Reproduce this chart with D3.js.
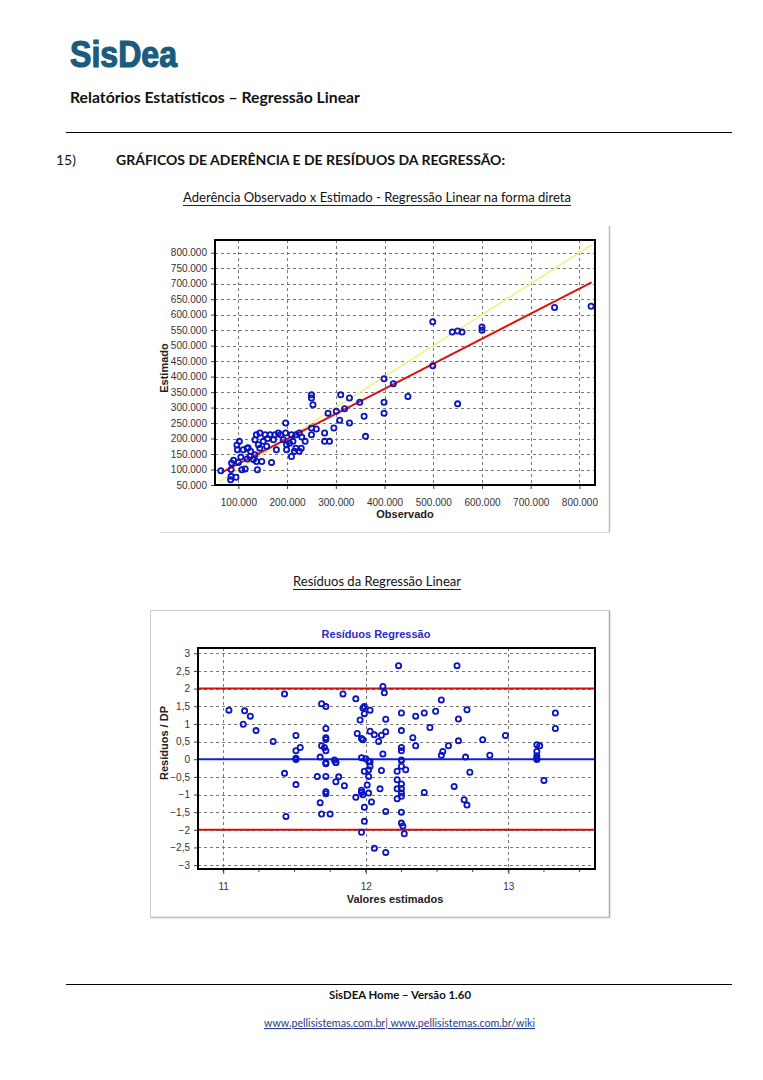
<!DOCTYPE html>
<html><head><meta charset="utf-8">
<script src="https://cdn.jsdelivr.net/npm/d3@7"></script>
<style>
body{margin:0;background:#fff;}
svg{display:block;}
</style></head>
<body>
<svg id="page" width="763" height="1080"></svg>
<script>
// ---------- Chart 1 data: Observado vs Estimado ----------
const observado = [64000,84000,85000,95000,85000,86000,90000,100000,107000,114000,97000,102000,98000,110000,118000,125000,124000,118000,131000,134000,137000,139000,148000,134000,137000,144000,141000,144000,151000,155000,158000,165000,168000,172000,175000,178000,182000,187000,192000,197000,197000,199000,199000,209000,209000,212000,215000,218000,218000,225000,225000,229000,237000,250000,250000,253000,250000,250000,260000,277000,277000,287000,284000,296000,301000,308000,310000,318000,328000,328000,349000,358000,361000,399000,399000,399000,418000,448000,499000,499000,539000,550000,559000,600000,600000,749000,824000,550000,105000,120000,160000,205000,230000];
const estimado  = [96000,67000,78000,75000,100000,121000,130000,123000,99000,102000,179000,191000,164000,164000,169000,159000,142000,134000,132000,148000,126000,99000,126000,196000,212000,218000,180000,169000,191000,212000,175000,212000,123000,196000,212000,164000,218000,212000,196000,250000,218000,180000,164000,212000,142000,191000,159000,212000,169000,159000,218000,169000,191000,341000,331000,309000,234000,212000,231000,218000,191000,191000,282000,234000,288000,259000,341000,296000,250000,331000,317000,272000,207000,317000,282000,393000,377000,336000,577000,435000,544000,547000,544000,560000,550000,623000,627000,312000,140000,170000,200000,185000,205000];
const obsTicks = [100000,200000,300000,400000,500000,600000,700000,800000];
const estTicks = [50000,100000,150000,200000,250000,300000,350000,400000,450000,500000,550000,600000,650000,700000,750000,800000];
const identityLine = [60000, 825000];            // y = x (yellow)
const regObs = [66000, 825000];                  // regression line (red)
const regEst = [91000, 704000];

// ---------- Chart 2 data: Resíduos ----------
const resX = [11.04,11.14,11.15,11.19,11.23,11.35,11.43,11.51,11.51,11.54,11.51,11.69,11.72,11.72,11.72,11.72,11.69,11.71,11.72,11.68,11.84,11.93,11.96,11.94,11.97,11.98,11.98,11.99,11.99,12.03,12.03,12.06,12.09,12.11,12.14,12.14,12.12,12.13,12.12,11.97,12.00,12.03,11.78,11.79,11.72,
  11.43,11.51,11.44,11.51,11.66,11.72,11.72,11.79,11.81,11.79,11.85,11.72,11.72,11.68,11.69,11.75,11.93,11.97,11.97,11.98,11.99,12.02,12.03,12.02,12.02,12.01,12.02,12.04,11.99,11.99,11.97,12.06,12.11,12.10,12.14,12.14,
  12.23,12.64,12.53,12.25,12.35,12.41,12.49,12.71,12.65,12.45,12.25,12.33,12.35,12.25,12.25,12.65,12.82,12.98,12.58,12.54,12.53,12.70,12.87,12.25,13.20,13.22,13.20,13.20,13.20,13.33,13.33,
  12.22,12.25,12.25,12.28,12.22,12.25,12.22,12.25,12.25,12.22,12.25,12.25,12.25,12.26,12.27,12.41,12.62,12.73,12.69,12.71,13.20,13.25];
const resY = [1.39,0.99,1.37,1.22,0.81,0.50,1.85,0.67,0.24,0.33,0.03,1.57,1.49,0.87,0.61,0.56,0.38,0.33,0.24,0.06,1.85,1.71,1.11,0.73,0.59,0.55,1.45,1.49,1.29,1.39,0.79,0.69,0.50,0.68,0.78,1.13,2.06,1.88,0.15,0.04,0.01,-0.07,-0.02,-0.09,-0.10,
  -0.40,-0.72,-1.62,-0.01,-0.49,-0.49,-0.13,-0.09,-0.50,-0.64,-0.75,-0.92,-0.98,-1.23,-1.55,-1.55,-1.08,-0.88,-0.94,-1.01,-0.34,-0.30,-0.20,-0.06,-0.49,-0.73,-0.96,-1.21,-1.36,-1.76,-2.07,-2.52,-0.32,-0.84,-1.48,-2.64,
  2.65,2.65,1.68,1.31,1.22,1.31,1.36,1.40,1.14,0.90,0.81,0.61,0.38,0.33,0.24,0.52,0.55,0.67,0.38,0.22,0.11,0.06,0.11,-0.02,0.41,0.38,0.22,0.10,0.03,1.31,0.87,
  -0.34,-0.20,-0.04,-0.30,-0.58,-0.70,-0.84,-0.84,-0.96,-1.12,-1.05,-1.50,-1.81,-1.89,-2.11,-0.94,-0.77,-0.37,-1.15,-1.30,-0.01,-0.60];
const resYTicks = [-3,-2.5,-2,-1.5,-1,-0.5,0,0.5,1,1.5,2,2.5,3];
const resXTicks = [11,12,13];
const resXMinor = [11,11.25,11.5,11.75,12,12.25,12.5,12.75,13,13.25,13.5];
const limitLines = [2,-2];
const zeroLine = [0];

// ---------- page ----------
const svg = d3.select("#page");
const ptBR = d3.formatLocale({decimal:",", thousands:".", grouping:[3], currency:["R$",""]});
const fmtBig = v => ptBR.format(",.0f")(v);
const fmtRes = v => ptBR.format("~g")(v);

const doc = "Lato, 'Open Sans', sans-serif";
const chartFont = "'Liberation Sans', Arial, sans-serif";
const tickSize = 10;

// Logo
svg.append("text").attr("x",70).attr("y",67).attr("font-family","'Liberation Sans', Arial, sans-serif")
  .attr("font-weight","bold").attr("font-size",36).attr("fill","#1b5b7e").attr("stroke","#1b5b7e").attr("stroke-width",1.2)
  .attr("textLength",107).attr("lengthAdjust","spacingAndGlyphs").text("SisDea");

svg.append("text").attr("x",70).attr("y",103).attr("font-family",doc).attr("font-weight","bold")
  .attr("font-size",15).attr("fill","#111").attr("textLength",290).attr("lengthAdjust","spacingAndGlyphs")
  .text("Relatórios Estatísticos – Regressão Linear");

svg.append("line").attr("x1",66).attr("x2",732).attr("y1",132.5).attr("y2",132.5).attr("stroke","#000").attr("stroke-width",1.2);

svg.append("text").attr("x",56).attr("y",165).attr("font-family",doc).attr("font-size",14).attr("fill","#111").text("15)");
svg.append("text").attr("x",116).attr("y",165).attr("font-family",doc).attr("font-weight","bold")
  .attr("font-size",14).attr("fill","#111").attr("textLength",389).attr("lengthAdjust","spacingAndGlyphs")
  .text("GRÁFICOS DE ADERÊNCIA E DE RESÍDUOS DA REGRESSÃO:");

function underlinedTitle(x1, x2, y, txt){
  svg.append("text").attr("x",x1).attr("y",y).attr("font-family",doc).attr("font-size",13)
    .attr("fill","#111").attr("textLength",x2-x1).attr("lengthAdjust","spacingAndGlyphs").text(txt);
  svg.append("line").attr("x1",x1).attr("x2",x2).attr("y1",y+3.5).attr("y2",y+3.5).attr("stroke","#222").attr("stroke-width",1);
}
underlinedTitle(183, 571, 202, "Aderência Observado x Estimado - Regressão Linear na forma direta");
underlinedTitle(293, 461, 586, "Resíduos da Regressão Linear");

// ---------- Chart 1 ----------
const c1 = svg.append("g");
c1.append("line").attr("x1",609.5).attr("x2",609.5).attr("y1",226).attr("y2",532).attr("stroke","#bbb").attr("stroke-width",1.5);
c1.append("line").attr("x1",160).attr("x2",610).attr("y1",532.5).attr("y2",532.5).attr("stroke","#ddd").attr("stroke-width",1);

const x1 = d3.scaleLinear().domain([52000, 832000]).range([215, 595]);
const y1 = d3.scaleLinear().domain([50000, 841000]).range([485, 240]);

c1.append("g").selectAll("line").data(obsTicks).join("line")
  .attr("x1",d=>Math.round(x1(d))+0.5).attr("x2",d=>Math.round(x1(d))+0.5).attr("y1",240).attr("y2",485)
  .attr("stroke","#777").attr("stroke-width",1).attr("stroke-dasharray","3,3");
c1.append("g").selectAll("line").data(estTicks).join("line")
  .attr("y1",d=>Math.round(y1(d))+0.5).attr("y2",d=>Math.round(y1(d))+0.5).attr("x1",215).attr("x2",595)
  .attr("stroke","#777").attr("stroke-width",1).attr("stroke-dasharray","3,3");

const ax1 = c1.append("g").attr("transform","translate(0,485)")
  .call(d3.axisBottom(x1).tickValues(obsTicks).tickSize(4).tickFormat(fmtBig));
const ay1 = c1.append("g").attr("transform","translate(215,0)")
  .call(d3.axisLeft(y1).tickValues(estTicks).tickSize(4).tickFormat(fmtBig));
[ax1, ay1].forEach(a=>{
  a.select(".domain").remove();
  a.selectAll("text").attr("font-family",chartFont).attr("font-size",tickSize).attr("fill","#333");
  a.selectAll("line").attr("stroke","#444");
});
ax1.selectAll("text").attr("dy","1.35em");
ay1.selectAll("text").attr("dx","-1px");

c1.append("line").attr("x1",x1(identityLine[0])).attr("y1",y1(identityLine[0]))
  .attr("x2",x1(identityLine[1])).attr("y2",y1(identityLine[1])).attr("stroke","#f4f07a").attr("stroke-width",1.5);
c1.append("line").attr("x1",x1(regObs[0])).attr("y1",y1(regEst[0]))
  .attr("x2",x1(regObs[1])).attr("y2",y1(regEst[1])).attr("stroke","#e01010").attr("stroke-width",2);

c1.append("g").selectAll("circle").data(observado.map((d,i)=>[d,estimado[i]])).join("circle")
  .attr("cx",d=>x1(d[0])).attr("cy",d=>y1(d[1])).attr("r",2.6)
  .attr("fill","none").attr("stroke","#0a14c0").attr("stroke-width",1.8);

c1.append("rect").attr("x",215).attr("y",240).attr("width",380).attr("height",245)
  .attr("fill","none").attr("stroke","#000").attr("stroke-width",2);

c1.append("text").attr("transform","translate(168,368) rotate(-90)").attr("text-anchor","middle")
  .attr("font-family",chartFont).attr("font-weight","bold").attr("font-size",11).attr("fill","#222").text("Estimado");
c1.append("text").attr("x",405).attr("y",518).attr("text-anchor","middle")
  .attr("font-family",chartFont).attr("font-weight","bold").attr("font-size",11).attr("fill","#222").text("Observado");

// ---------- Chart 2 ----------
const c2 = svg.append("g");
c2.append("rect").attr("x",150.5).attr("y",610.5).attr("width",459).attr("height",307)
  .attr("fill","none").attr("stroke","#ccc").attr("stroke-width",1);
c2.append("line").attr("x1",609.5).attr("x2",609.5).attr("y1",611).attr("y2",918).attr("stroke","#aaa").attr("stroke-width",1.5);
c2.append("line").attr("x1",151).attr("x2",610).attr("y1",917.5).attr("y2",917.5).attr("stroke","#bbb").attr("stroke-width",1.5);

const x2 = d3.scaleLinear().domain([10.823, 13.608]).range([198, 595]);
const y2 = d3.scaleLinear().domain([-3.11, 3.15]).range([869, 648]);

c2.append("g").selectAll("line").data(resXTicks).join("line")
  .attr("x1",d=>Math.round(x2(d))+0.5).attr("x2",d=>Math.round(x2(d))+0.5).attr("y1",648).attr("y2",869)
  .attr("stroke","#777").attr("stroke-width",1).attr("stroke-dasharray","3,3");
c2.append("g").selectAll("line").data(resYTicks).join("line")
  .attr("y1",d=>Math.round(y2(d))+0.5).attr("y2",d=>Math.round(y2(d))+0.5).attr("x1",198).attr("x2",595)
  .attr("stroke","#777").attr("stroke-width",1).attr("stroke-dasharray","3,3");

const ax2 = c2.append("g").attr("transform","translate(0,869)")
  .call(d3.axisBottom(x2).tickValues(resXTicks).tickSize(5).tickFormat(d3.format("d")));
c2.append("g").attr("transform","translate(0,869)").selectAll("line").data(resXMinor).join("line")
  .attr("x1",d=>x2(d)).attr("x2",d=>x2(d)).attr("y1",0).attr("y2",3).attr("stroke","#444");
const ay2 = c2.append("g").attr("transform","translate(198,0)")
  .call(d3.axisLeft(y2).tickValues(resYTicks).tickSize(4).tickFormat(fmtRes));
[ax2, ay2].forEach(a=>{
  a.select(".domain").remove();
  a.selectAll("text").attr("font-family",chartFont).attr("font-size",tickSize).attr("fill","#333");
  a.selectAll("line").attr("stroke","#444");
});
ax2.selectAll("text").attr("dy","1.3em");
ay2.selectAll("text").attr("dx","-1px");

c2.append("g").selectAll("line").data(limitLines).join("line")
  .attr("x1",198).attr("x2",595).attr("y1",d=>y2(d)).attr("y2",d=>y2(d)).attr("stroke","#d01010").attr("stroke-width",2);
c2.append("g").selectAll("line").data(zeroLine).join("line")
  .attr("x1",198).attr("x2",595).attr("y1",d=>y2(d)).attr("y2",d=>y2(d)).attr("stroke","#1020e0").attr("stroke-width",2);

c2.append("g").selectAll("circle").data(resX.map((d,i)=>[d,resY[i]])).join("circle")
  .attr("cx",d=>x2(d[0])).attr("cy",d=>y2(d[1])).attr("r",2.6)
  .attr("fill","none").attr("stroke","#0a14c0").attr("stroke-width",1.8);

c2.append("rect").attr("x",198).attr("y",648).attr("width",397).attr("height",221)
  .attr("fill","none").attr("stroke","#000").attr("stroke-width",2);

c2.append("text").attr("x",376).attr("y",638).attr("text-anchor","middle")
  .attr("font-family",chartFont).attr("font-weight","bold").attr("font-size",11).attr("fill","#2a2ac8").text("Resíduos Regressão");
c2.append("text").attr("transform","translate(168,743) rotate(-90)").attr("text-anchor","middle")
  .attr("font-family",chartFont).attr("font-weight","bold").attr("font-size",11).attr("fill","#222").text("Resíduos / DP");
c2.append("text").attr("x",395).attr("y",903).attr("text-anchor","middle")
  .attr("font-family",chartFont).attr("font-weight","bold").attr("font-size",11).attr("fill","#222").text("Valores estimados");

// ---------- footer ----------
svg.append("line").attr("x1",66).attr("x2",732).attr("y1",984.5).attr("y2",984.5).attr("stroke","#000").attr("stroke-width",1.2);
svg.append("text").attr("x",400).attr("y",999).attr("text-anchor","middle").attr("font-family",doc)
  .attr("font-weight","bold").attr("font-size",12).attr("fill","#111").attr("textLength",142).attr("lengthAdjust","spacingAndGlyphs")
  .text("SisDEA Home – Versão 1.60");
svg.append("text").attr("x",264).attr("y",1027).attr("font-family",doc).attr("font-size",11).attr("fill","#2a3a8a")
  .attr("text-decoration","underline").attr("textLength",271).attr("lengthAdjust","spacingAndGlyphs")
  .text("www.pellisistemas.com.br| www.pellisistemas.com.br/wiki");
</script>
</body></html>
